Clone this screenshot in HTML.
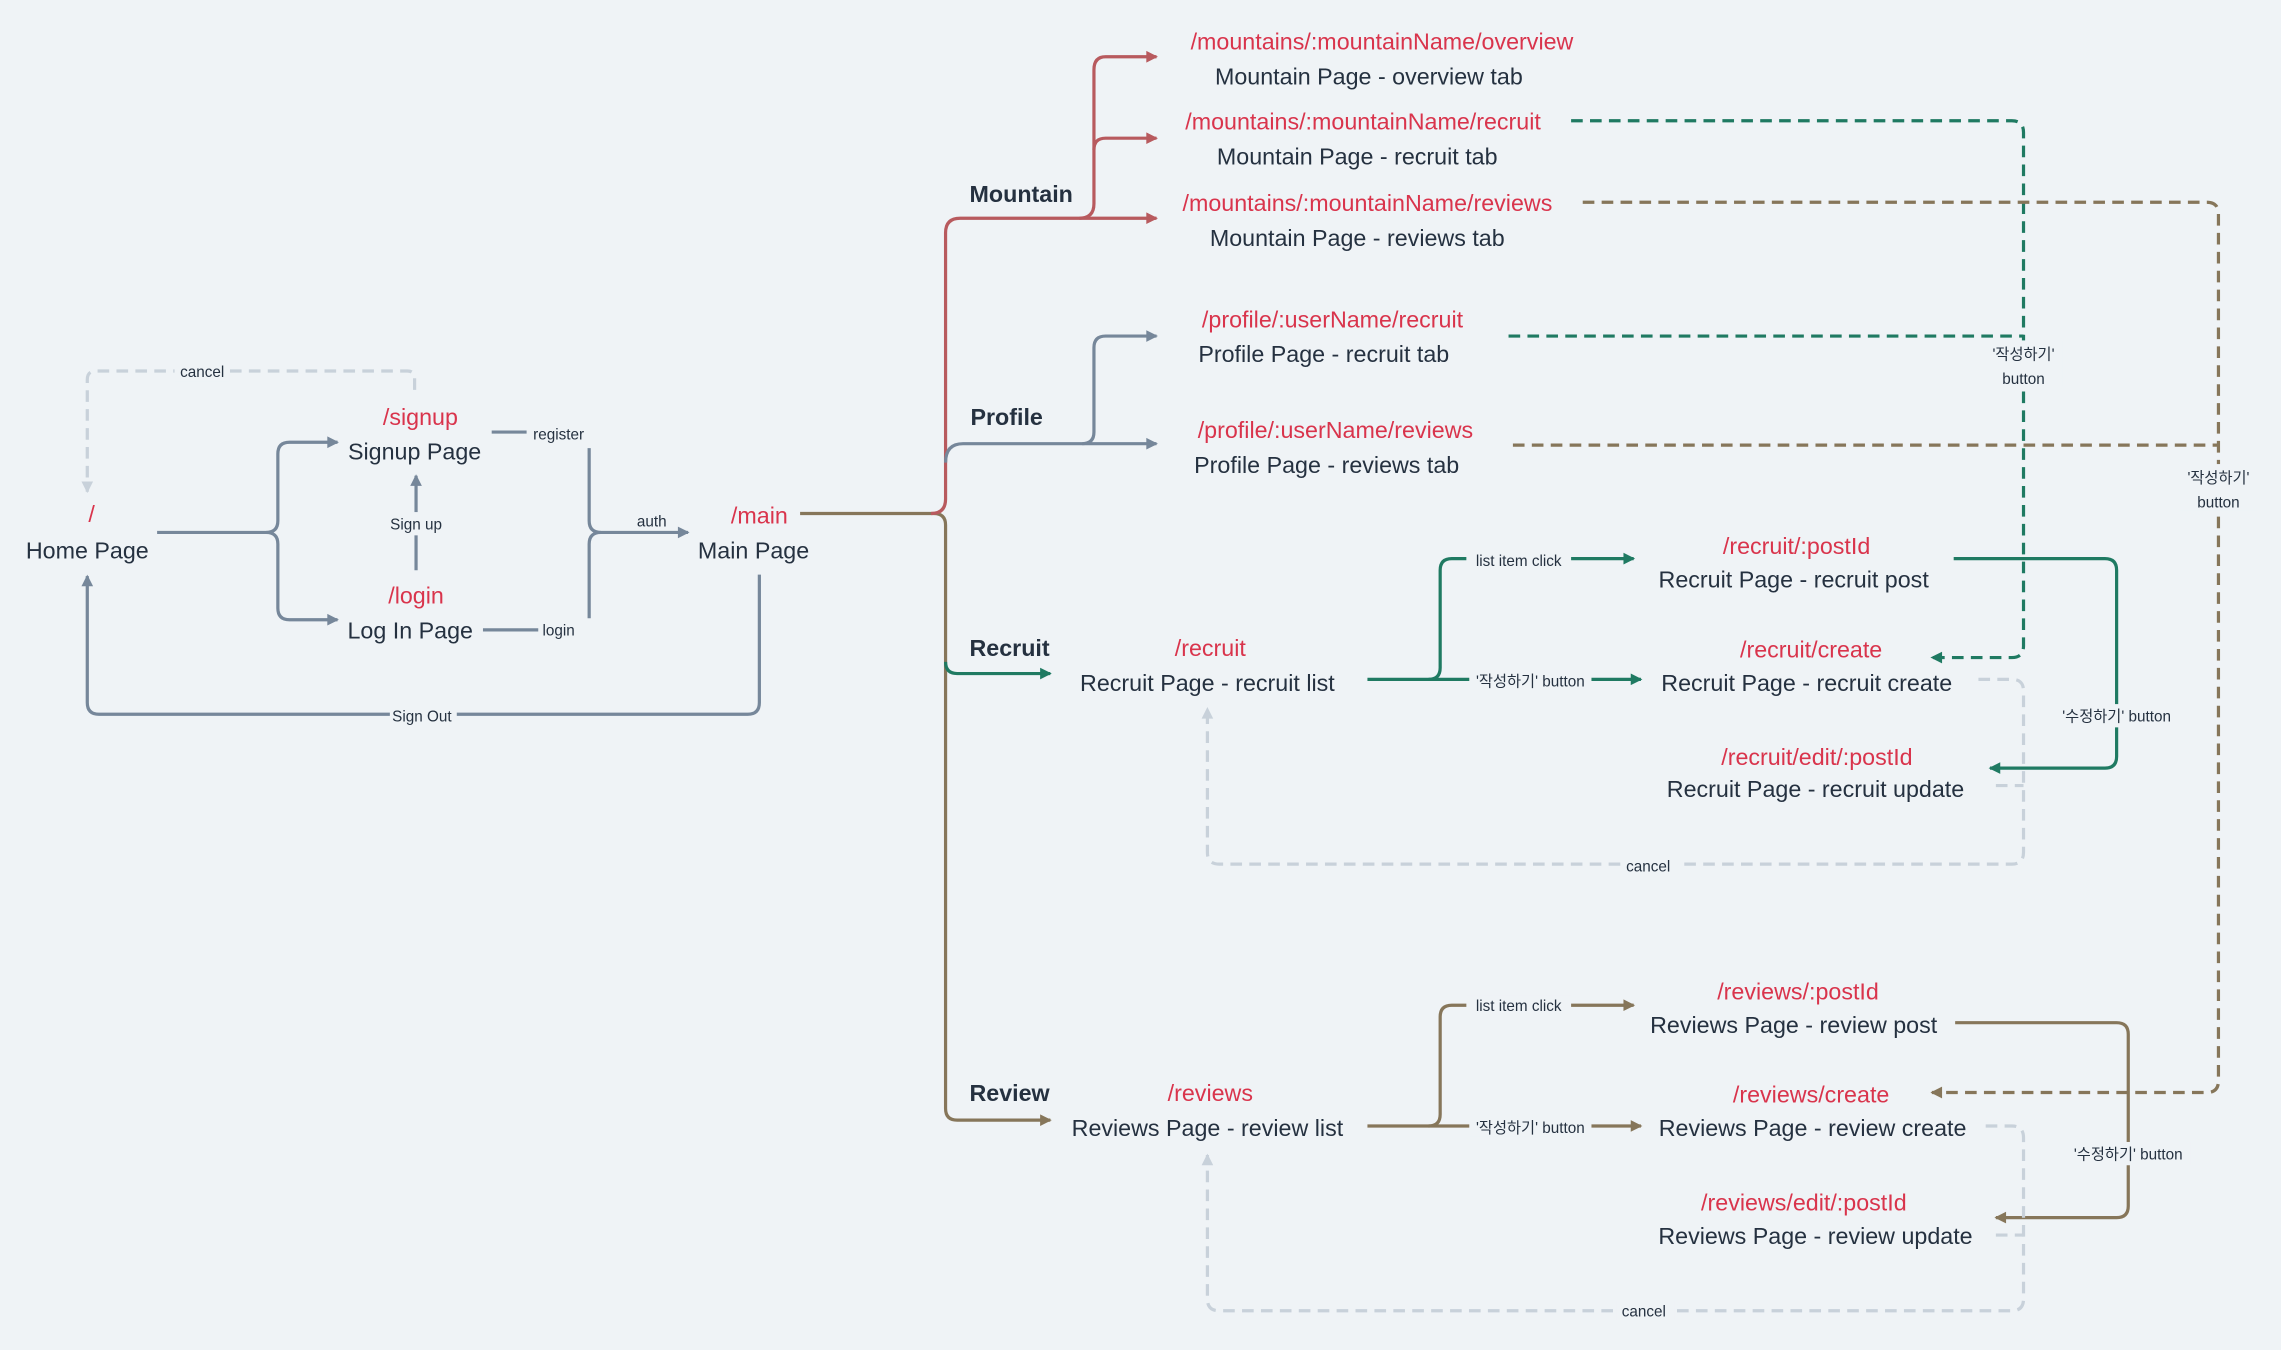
<!DOCTYPE html>
<html><head><meta charset="utf-8"><style>
html,body{margin:0;padding:0;background:#eff3f6;}
svg{display:block}
text{font-family:"Liberation Sans","Noto Sans CJK KR",sans-serif;}
.r{fill:#d9344c;font-size:16px;text-anchor:middle}
.d{fill:#253140;font-size:16px;text-anchor:middle}
.b{fill:#253140;font-size:16px;font-weight:bold;text-anchor:middle}
.l{fill:#253140;font-size:10.5px;text-anchor:middle}
.lb{fill:#eff3f6;stroke:none}
</style></head><body>
<svg width="2281" height="1350" viewBox="0 0 1568 928" xmlns="http://www.w3.org/2000/svg">
<defs>
<marker id="mg" markerUnits="userSpaceOnUse" markerWidth="10" markerHeight="10" refX="8" refY="5" orient="auto"><path d="M1,1 L9,5 L1,9 z" fill="#76879a"/></marker>
<marker id="mr" markerUnits="userSpaceOnUse" markerWidth="10" markerHeight="10" refX="8" refY="5" orient="auto"><path d="M1,1 L9,5 L1,9 z" fill="#b85a5e"/></marker>
<marker id="mn" markerUnits="userSpaceOnUse" markerWidth="10" markerHeight="10" refX="8" refY="5" orient="auto"><path d="M1,1 L9,5 L1,9 z" fill="#1f7a62"/></marker>
<marker id="mb" markerUnits="userSpaceOnUse" markerWidth="10" markerHeight="10" refX="8" refY="5" orient="auto"><path d="M1,1 L9,5 L1,9 z" fill="#86765a"/></marker>
<marker id="ml" markerUnits="userSpaceOnUse" markerWidth="10" markerHeight="10" refX="8" refY="5" orient="auto"><path d="M1,1 L9,5 L1,9 z" fill="#c8d1da"/></marker>
</defs>
<rect width="1568" height="928" fill="#eff3f6"/>
<g fill="none" stroke-width="2.2">
<!-- left part -->
<path d="M285,268 V260 Q285,255 280,255 H66 Q60,255 60,261 V338" stroke="#c8d1da" stroke-dasharray="8,5" marker-end="url(#ml)"/>
<path d="M108,366 H183 Q191,366 191,358 V312 Q191,304 199,304 H232" stroke="#76879a" marker-end="url(#mg)"/>
<path d="M183,366 Q191,366 191,374 V418 Q191,426 199,426 H232" stroke="#76879a" marker-end="url(#mg)"/>
<path d="M286,392 V327" stroke="#76879a" marker-end="url(#mg)"/>
<path d="M338,297 H362" stroke="#76879a"/>
<path d="M405,308 V358 Q405,366 413,366 H473" stroke="#76879a" marker-end="url(#mg)"/>
<path d="M332,433 H370" stroke="#76879a"/>
<path d="M405,425 V374 Q405,366 413,366" stroke="#76879a"/>
<path d="M522,395 V483 Q522,491 514,491 H68 Q60,491 60,483 V396" stroke="#76879a" marker-end="url(#mg)"/>
<!-- main trunk -->
<path d="M550,353 H642 Q650,353 650,361 V762 Q650,770 658,770 H722" stroke="#86765a" marker-end="url(#mb)"/>
<path d="M650,455 Q650,463 658,463 H722" stroke="#1f7a62" marker-end="url(#mn)"/>
<path d="M640,353 Q650,353 650,343 V160 Q650,150 660,150 H795" stroke="#b85a5e" marker-end="url(#mr)"/>
<path d="M742,150 Q752,150 752,140 V48 Q752,39 760,39 H795" stroke="#b85a5e" marker-end="url(#mr)"/>
<path d="M752,103 Q752,95 760,95 H795" stroke="#b85a5e" marker-end="url(#mr)"/>
<path d="M650,318 Q650,305 662,305 H795" stroke="#76879a" marker-end="url(#mg)"/>
<path d="M744,305 Q752,305 752,297 V239 Q752,231 760,231 H795" stroke="#76879a" marker-end="url(#mg)"/>
<!-- recruit -->
<path d="M940,467 H982 Q990,467 990,459 V392 Q990,384 998,384 H1123" stroke="#1f7a62" marker-end="url(#mn)"/>
<path d="M982,467 H1128" stroke="#1f7a62" marker-end="url(#mn)"/>
<path d="M1343,384 H1447 Q1455,384 1455,392 V520 Q1455,528 1447,528 H1368" stroke="#1f7a62" marker-end="url(#mn)"/>
<path d="M1080,83 H1383 Q1391,83 1391,91 V444 Q1391,452 1383,452 H1328" stroke="#1f7a62" stroke-dasharray="8,5" marker-end="url(#mn)"/>
<path d="M1037,231 H1391" stroke="#1f7a62" stroke-dasharray="8,5"/>
<path d="M1360,467 H1383 Q1391,467 1391,475 V586 Q1391,594 1383,594 H838 Q830,594 830,586 V487" stroke="#c8d1da" stroke-dasharray="8,5" marker-end="url(#ml)"/>
<path d="M1372,540 H1391" stroke="#c8d1da" stroke-dasharray="8,5"/>
<!-- reviews -->
<path d="M1088,139 H1517 Q1525,139 1525,147 V743 Q1525,751 1517,751 H1328" stroke="#86765a" stroke-dasharray="8,5" marker-end="url(#mb)"/>
<path d="M1040,306 H1525" stroke="#86765a" stroke-dasharray="8,5"/>
<path d="M940,774 H982 Q990,774 990,766 V699 Q990,691 998,691 H1123" stroke="#86765a" marker-end="url(#mb)"/>
<path d="M982,774 H1128" stroke="#86765a" marker-end="url(#mb)"/>
<path d="M1344,703 H1455 Q1463,703 1463,711 V829 Q1463,837 1455,837 H1372" stroke="#86765a" marker-end="url(#mb)"/>
<path d="M1365,774 H1383 Q1391,774 1391,782 V893 Q1391,901 1383,901 H838 Q830,901 830,893 V794" stroke="#c8d1da" stroke-dasharray="8,5" marker-end="url(#ml)"/>
<path d="M1372,849 H1391" stroke="#c8d1da" stroke-dasharray="8,5"/>
</g>
<!-- label backgrounds -->
<rect class="lb" x="120" y="248" width="38" height="14"/>
<rect class="lb" x="264" y="352" width="44" height="16"/>
<rect class="lb" x="268" y="485" width="46" height="14"/>
<rect class="lb" x="1008" y="377" width="72" height="14"/>
<rect class="lb" x="1010" y="460" width="84" height="14"/>
<rect class="lb" x="1008" y="684" width="72" height="14"/>
<rect class="lb" x="1010" y="767" width="84" height="14"/>
<rect class="lb" x="1412" y="484" width="86" height="16"/>
<rect class="lb" x="1420" y="785" width="86" height="16"/>
<rect class="lb" x="1364" y="234" width="54" height="32"/>
<rect class="lb" x="1498" y="319" width="54" height="32"/>
<rect class="lb" x="1114" y="587" width="40" height="14"/>
<rect class="lb" x="1111" y="894" width="40" height="14"/>
<!-- labels -->
<text class="l" x="139" y="259">cancel</text>
<text class="l" x="286" y="364">Sign up</text>
<text class="l" x="384" y="302">register</text>
<text class="l" x="384" y="437">login</text>
<text class="l" x="448" y="362">auth</text>
<text class="l" x="290" y="496">Sign Out</text>
<text class="l" x="1044" y="389">list item click</text>
<text class="l" x="1052" y="472">'작성하기' button</text>
<text class="l" x="1044" y="695">list item click</text>
<text class="l" x="1052" y="779">'작성하기' button</text>
<text class="l" x="1455" y="496">'수정하기' button</text>
<text class="l" x="1463" y="797">'수정하기' button</text>
<text class="l" x="1391" y="247">'작성하기'</text>
<text class="l" x="1391" y="264">button</text>
<text class="l" x="1525" y="332">'작성하기'</text>
<text class="l" x="1525" y="349">button</text>
<text class="l" x="1133" y="599">cancel</text>
<text class="l" x="1130" y="905">cancel</text>
<!-- nodes -->
<text class="r" x="63" y="359">/</text><text class="d" x="60" y="384">Home Page</text>
<text class="r" x="289" y="292">/signup</text><text class="d" x="285" y="316">Signup Page</text>
<text class="r" x="286" y="415">/login</text><text class="d" x="282" y="439">Log In Page</text>
<text class="r" x="522" y="360">/main</text><text class="d" x="518" y="384">Main Page</text>
<text class="b" x="702" y="139">Mountain</text>
<text class="b" x="692" y="292">Profile</text>
<text class="b" x="694" y="451">Recruit</text>
<text class="b" x="694" y="757">Review</text>
<text class="r" x="950" y="34">/mountains/:mountainName/overview</text><text class="d" x="941" y="58">Mountain Page - overview tab</text>
<text class="r" x="937" y="89">/mountains/:mountainName/recruit</text><text class="d" x="933" y="113">Mountain Page - recruit tab</text>
<text class="r" x="940" y="145">/mountains/:mountainName/reviews</text><text class="d" x="933" y="169">Mountain Page - reviews tab</text>
<text class="r" x="916" y="225">/profile/:userName/recruit</text><text class="d" x="910" y="249">Profile Page - recruit tab</text>
<text class="r" x="918" y="301">/profile/:userName/reviews</text><text class="d" x="912" y="325">Profile Page - reviews tab</text>
<text class="r" x="832" y="451">/recruit</text><text class="d" x="830" y="475">Recruit Page - recruit list</text>
<text class="r" x="1235" y="381">/recruit/:postId</text><text class="d" x="1233" y="404">Recruit Page - recruit post</text>
<text class="r" x="1245" y="452">/recruit/create</text><text class="d" x="1242" y="475">Recruit Page - recruit create</text>
<text class="r" x="1249" y="526">/recruit/edit/:postId</text><text class="d" x="1248" y="548">Recruit Page - recruit update</text>
<text class="r" x="832" y="757">/reviews</text><text class="d" x="830" y="781">Reviews Page - review list</text>
<text class="r" x="1236" y="687">/reviews/:postId</text><text class="d" x="1233" y="710">Reviews Page - review post</text>
<text class="r" x="1245" y="758">/reviews/create</text><text class="d" x="1246" y="781">Reviews Page - review create</text>
<text class="r" x="1240" y="832">/reviews/edit/:postId</text><text class="d" x="1248" y="855">Reviews Page - review update</text>
</svg>
</body></html>
